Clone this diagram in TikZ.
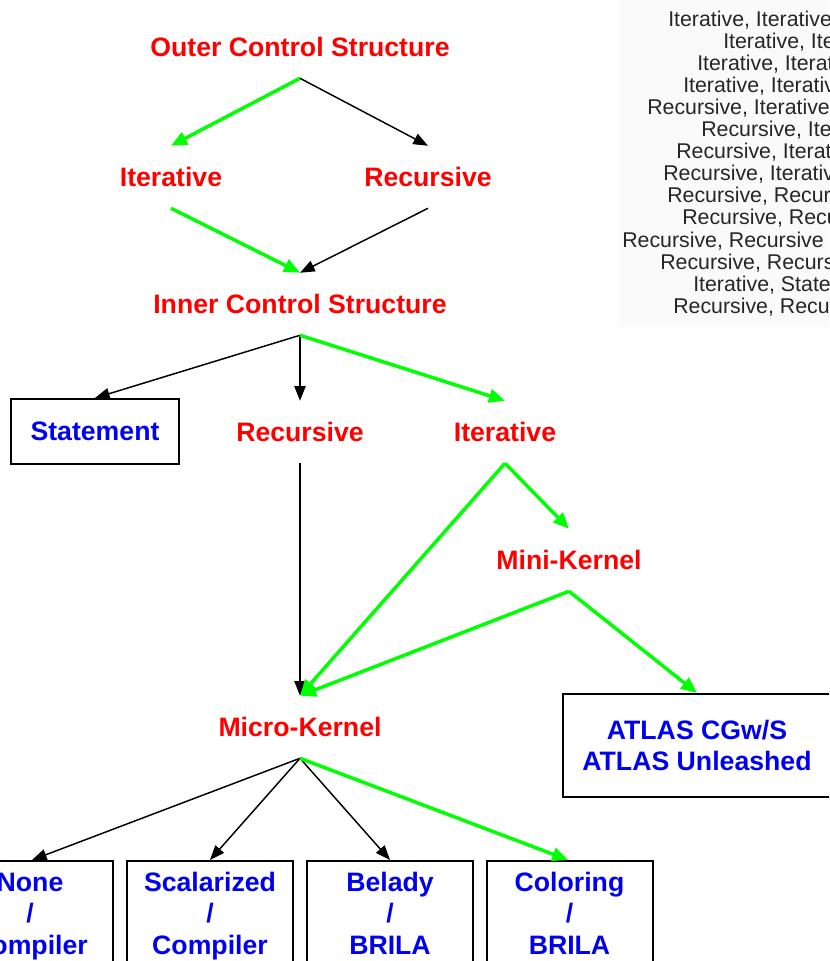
\documentclass[tikz,border=0pt]{standalone}
\usepackage{fontspec}
\setmainfont{Liberation Sans}
\usetikzlibrary{arrows.meta}
\definecolor{lblred}{RGB}{255,0,0}
\definecolor{lblblue}{RGB}{0,0,240}
\definecolor{pathgreen}{RGB}{0,255,0}
\definecolor{listgray}{RGB}{250,250,250}
\begin{document}
\begin{tikzpicture}[x=0.75pt,y=-0.75pt,
  lbl/.style={text=lblred, font=\fontsize{20}{24}\selectfont\bfseries, minimum height=46.5pt, inner sep=0pt},
  choice/.style={draw, line width=1.5pt, text=lblblue, font=\fontsize{20}{23.6}\selectfont\bfseries, align=center, inner sep=0pt},
  leafbox/.style={choice, minimum width=124.5pt, minimum height=83.25pt},
  chosen/.style={draw=pathgreen, line width=2.6pt, -{Triangle[length=12pt,width=10pt]}},
  other/.style={draw=black, line width=1.1pt, -{Triangle[length=11pt,width=8.5pt]}},
  listline/.style={anchor=base west, inner sep=0pt, text=black!85, font=\fontsize{16}{19}\selectfont}
]
\useasboundingbox (0,0) rectangle (829,961);
\begin{scope}
\clip (0,0) rectangle (829,961);

% list of variants (upper right)
\fill[listgray] (619,0) rectangle (840,327);
\foreach \lx/\txt [count=\i from 0] in {
  668/{Iterative, Iterative},
  723/{Iterative, Iterative},
  697/{Iterative, Iterative},
  683/{Iterative, Iterative},
  647/{Recursive, Iterative},
  701/{Recursive, Iterative},
  676/{Recursive, Iterative},
  663/{Recursive, Iterative},
  667/{Recursive, Recursive},
  682/{Recursive, Recursive},
  622/{Recursive, Recursive},
  660/{Recursive, Recursive},
  693/{Iterative, Statement},
  673/{Recursive, Recursive}}
  \node[listline] (list\i) at (\lx, 26+22.1*\i) {\txt};

% decision labels
\node[lbl] (outer) at (300,47) {Outer Control Structure};
\node[lbl] (oiter) at (171,177) {Iterative};
\node[lbl] (orec) at (428,177) {Recursive};
\node[lbl] (inner) at (300,304) {Inner Control Structure};
\node[lbl] (irec) at (300,432) {Recursive};
\node[lbl] (iiter) at (505,432) {Iterative};
\node[lbl] (mini) at (569,560) {Mini-Kernel};
\node[lbl] (micro) at (300,727) {Micro-Kernel};

% terminal boxes
\node[choice, minimum width=126pt, minimum height=48.75pt] (stmt) at (95,431.5) {Statement};
\node[choice, minimum width=201pt, minimum height=77.25pt] (atlas) at (697,745.5) {ATLAS CGw/S\\ATLAS Unleashed};
\node[leafbox] (none) at (30,916.5) {\strut None\\/\\Compiler\strut};
\node[leafbox] (scal) at (210,916.5) {\strut Scalarized\\/\\Compiler\strut};
\node[leafbox] (bela) at (390,916.5) {\strut Belady\\/\\BRILA\strut};
\node[leafbox] (colo) at (569.5,916.5) {\strut Coloring\\/\\BRILA\strut};

% connectors
\draw[chosen] (outer.south) -- (oiter.north);
\draw[other] (outer.south) -- (orec.north);
\draw[chosen] (oiter.south) -- (inner.north);
\draw[other] (orec.south) -- (inner.north);
\draw[other] (inner.south) -- (stmt.north);
\draw[other] (inner.south) -- (irec.north);
\draw[chosen] (inner.south) -- (iiter.north);
\draw[other] (irec.south) -- (micro.north);
\draw[chosen] (iiter.south) -- (micro.north);
\draw[chosen] (iiter.south) -- (mini.north);
\draw[chosen] (mini.south) -- (micro.north);
\draw[chosen] (mini.south) -- (atlas.north);
\draw[other] (micro.south) -- ([xshift=1.5pt]none.north);
\draw[other] (micro.south) -- (scal.north);
\draw[other] (micro.south) -- (bela.north);
\draw[chosen] (micro.south) -- ([xshift=-1pt]colo.north);
\end{scope}
\end{tikzpicture}
\end{document}
